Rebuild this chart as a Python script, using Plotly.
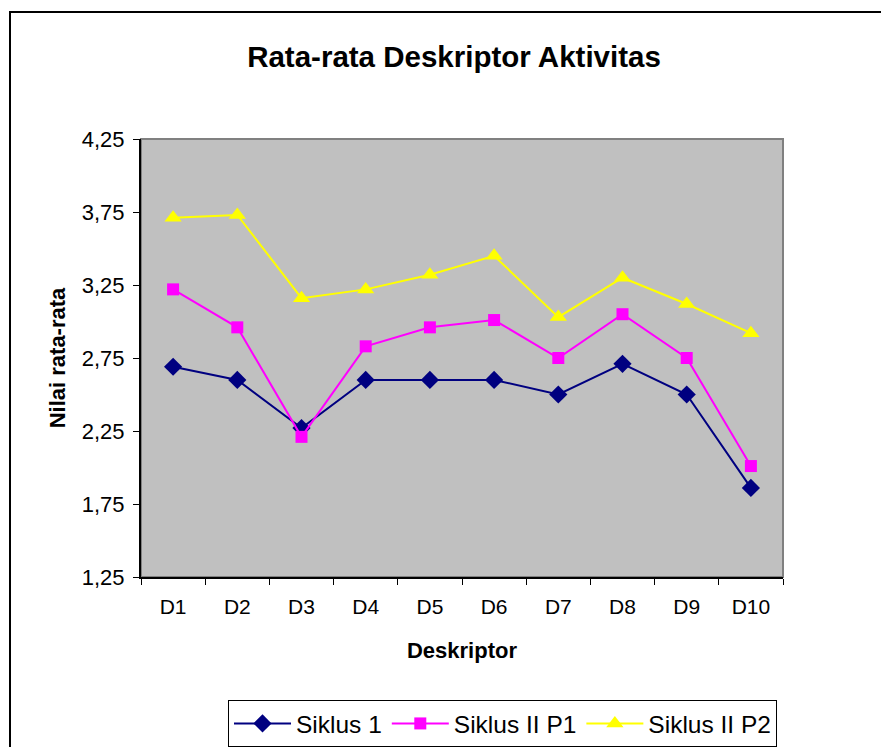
import plotly.graph_objects as go

categories = ["D1", "D2", "D3", "D4", "D5", "D6", "D7", "D8", "D9", "D10"]
siklus_1 = [2.69, 2.60, 2.27, 2.60, 2.60, 2.60, 2.50, 2.71, 2.50, 1.86]
siklus_2_p1 = [3.22, 2.96, 2.21, 2.83, 2.96, 3.01, 2.75, 3.05, 2.75, 2.01]
siklus_2_p2 = [3.71, 3.73, 3.16, 3.22, 3.32, 3.45, 3.03, 3.30, 3.12, 2.92]
y_ticks = [1.25, 1.75, 2.25, 2.75, 3.25, 3.75, 4.25]

W, H = 881, 747
L, R, T, B = 141, 783, 139, 577
pw, ph = R - L, B - T

def px_x(x):
    return (x - L) / pw

def px_y(y):
    return (B - y) / ph

fig = go.Figure()
fig.add_trace(go.Scatter(x=categories, y=siklus_1, name="Siklus 1", mode="lines+markers",
                         line=dict(color="#000080", width=2),
                         marker=dict(symbol="diamond", size=14, color="#000080")))
fig.add_trace(go.Scatter(x=categories, y=siklus_2_p1, name="Siklus II P1", mode="lines+markers",
                         line=dict(color="#FF00FF", width=2),
                         marker=dict(symbol="square", size=12, color="#FF00FF")))
fig.add_trace(go.Scatter(x=categories, y=siklus_2_p2, name="Siklus II P2", mode="lines+markers",
                         line=dict(color="#FFFF00", width=2),
                         marker=dict(symbol="triangle-up", size=15, color="#FFFF00")))

font_family = "Liberation Sans, Arial, sans-serif"

fig.update_layout(
    width=W, height=H,
    margin=dict(l=L, r=W - R, t=T, b=H - B, autoexpand=False),
    paper_bgcolor="white",
    plot_bgcolor="#C0C0C0",
    separators=",.",
    font=dict(family=font_family, color="black", size=21),
    title=dict(text="<b>Rata-rata Deskriptor Aktivitas</b>", x=px_x(454), xanchor="center",
               xref="paper",
               y=1 - 57 / H, yanchor="middle", font=dict(size=29.5, family=font_family)),
    showlegend=True,
    legend=dict(orientation="h", x=px_x(228), y=px_y(700), xanchor="left", yanchor="top",
                bordercolor="#000000", borderwidth=1, bgcolor="white",
                font=dict(size=24.5, family=font_family), itemwidth=57,
                tracegroupgap=0),
    xaxis=dict(type="category", range=[-0.5, 9.5], tickson="boundaries", ticks="outside",
               ticklen=6, tickcolor="black", showline=True, linecolor="black", linewidth=2,
               showgrid=False, zeroline=False, ticklabelstandoff=10,
               title=dict(text="<b>Deskriptor</b>", font=dict(size=22), standoff=25),
               tickfont=dict(size=21)),
    yaxis=dict(range=[1.25, 4.25], tickvals=y_ticks, tickformat=".2f",
               ticks="outside", ticklen=6, tickcolor="black",
               showline=True, linecolor="black", linewidth=2,
               showgrid=False, zeroline=False, ticklabelstandoff=4,
               title=dict(text="<b>Nilai rata-rata</b>", font=dict(size=22), standoff=10),
               tickfont=dict(size=22)),
    shapes=[
        dict(type="rect", xref="paper", yref="paper", x0=0, x1=1, y0=0, y1=1,
             line=dict(color="#808080", width=2), layer="below"),
        dict(type="rect", xref="paper", yref="paper",
             x0=px_x(10), x1=px_x(900), y0=px_y(760), y1=px_y(12),
             line=dict(color="black", width=2), layer="above"),
    ],
)

fig.write_html("out.html", config={"displayModeBar": False},
               post_script="document.body.style.margin='0px';")
